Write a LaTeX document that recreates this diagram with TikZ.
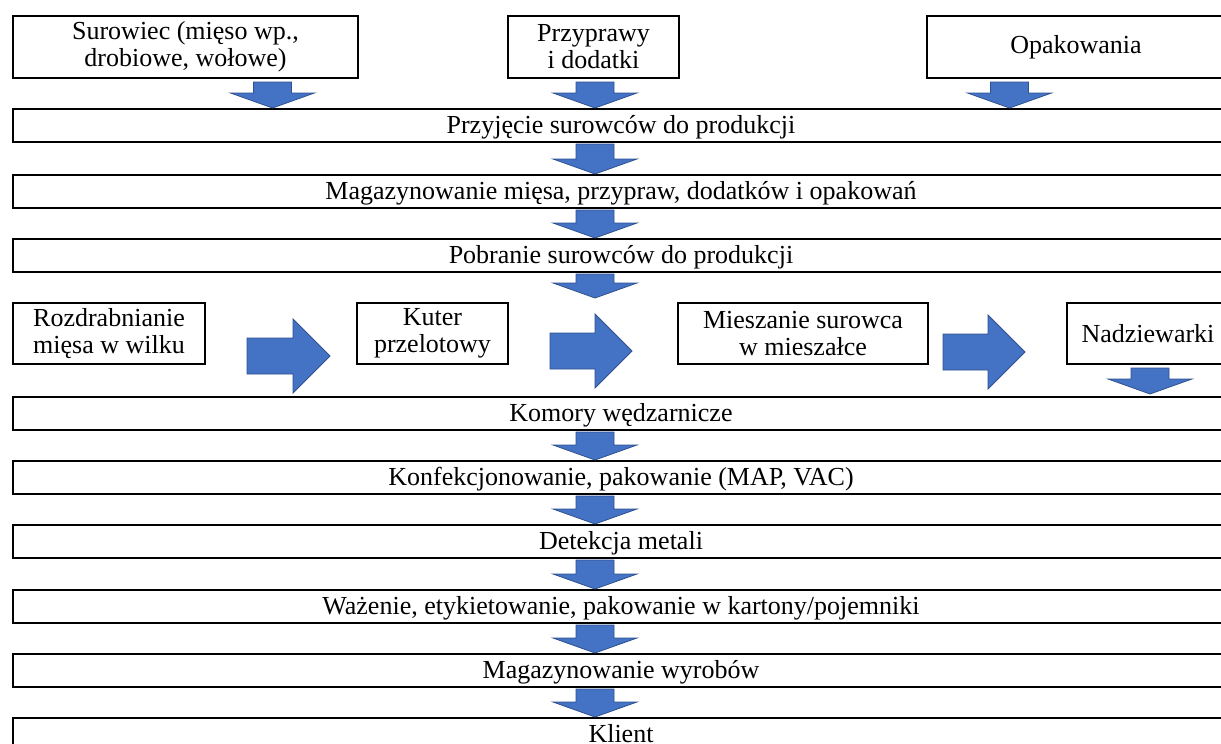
\documentclass[tikz,border=0pt]{standalone}
\usepackage{fontspec}
\setmainfont{Liberation Serif}
\usetikzlibrary{calc}
\definecolor{arrblue}{HTML}{4472C4}
\definecolor{arredge}{HTML}{2F528F}
\tikzset{
  box/.style={draw=black, line width=2pt, fill=white, inner sep=0pt, anchor=north west,
    font=\fontsize{26}{27}\selectfont, align=center},
  wide/.style={box, minimum width=1216pt, minimum height=33pt,
    text height=19.5pt, text depth=4pt},
  barrow/.style={fill=arrblue, draw=arredge, line width=0.8pt, line join=miter},
}
\newcommand\dnarr[2]{%
  \draw[barrow] let \p1=(#1), \p2=(#2) in
    (\x1-19pt,\y1) -- (\x1+19pt,\y1) -- (\x1+19pt,\y2+15pt) -- (\x1+42pt,\y2+15pt)
    -- (\x2,\y2) -- (\x1-42pt,\y2+15pt) -- (\x1-19pt,\y2+15pt) -- cycle;}
\newcommand\rtarr[2]{%
  \draw[barrow] let \p1=(#1), \p2=(#2) in
    (\x1,\y1+18pt) -- (\x2-37pt,\y1+18pt) -- (\x2-37pt,\y1+37pt) -- (\x2,\y2)
    -- (\x2-37pt,\y1-37pt) -- (\x2-37pt,\y1-18pt) -- (\x1,\y1-18pt) -- cycle;}
\begin{document}
\begin{tikzpicture}[x=1pt,y=-1pt]
\useasboundingbox[fill=white] (0,0) rectangle (1221,744);
\clip (0,0) rectangle (1221,744);
% top row
\node[box, minimum width=345pt, minimum height=62pt] (sur) at (12,15) {Surowiec (mięso wp.,\\drobiowe, wołowe)};
\node[box, minimum width=171pt, minimum height=62pt] (prz) at (507,15) {Przyprawy\\i dodatki};
\node[box, minimum width=298pt, minimum height=62pt] (opa) at (926,15) {Opakowania};
% wide steps
\node[wide] (w1) at (12,108) {Przyjęcie surowców do produkcji};
\node[wide] (w2) at (12,174) {Magazynowanie mięsa, przypraw, dodatków i opakowań};
\node[wide] (w3) at (12,238) {Pobranie surowców do produkcji};
% middle row
\node[box, minimum width=192pt, minimum height=61pt] (roz) at (12,302) {Rozdrabnianie\\mięsa w wilku};
\node[box, minimum width=151pt, minimum height=61pt] (kut) at (356,302) {Kuter\\przelotowy};
\node[box, minimum width=250pt, minimum height=61pt] (mie) at (677,302) {Mieszanie surowca\\w mieszałce};
\node[box, minimum width=162pt, minimum height=61pt] (nad) at (1066,302) {Nadziewarki};
% lower wide steps
\node[wide] (w4) at (12,396) {Komory wędzarnicze};
\node[wide] (w5) at (12,460) {Konfekcjonowanie, pakowanie (MAP, VAC)};
\node[wide] (w6) at (12,524) {Detekcja metali};
\node[wide] (w7) at (12,589) {Ważenie, etykietowanie, pakowanie w kartony/pojemniki};
\node[wide] (w8) at (12,653) {Magazynowanie wyrobów};
\node[wide] (w9) at (12,717) {Klient};
% arrow axes
\coordinate (c1) at (272.5,0);
\coordinate (c2) at (595,0);
\coordinate (c3) at (1009.5,0);
\coordinate (c4) at (1150,0);
% top arrows
\dnarr{$(sur.south -| c1)+(0,3)$}{w1.north -| c1}
\dnarr{$(prz.south -| c2)+(0,3)$}{w1.north -| c2}
\dnarr{$(opa.south -| c3)+(0,3)$}{w1.north -| c3}
% main column
\dnarr{$(w1.south -| c2)+(0,1)$}{w2.north -| c2}
\dnarr{$(w2.south -| c2)+(0,1)$}{w3.north -| c2}
\coordinate (mtip) at (595,298);
\dnarr{$(w3.south -| c2)+(0,1)$}{mtip}
% middle row arrows
\coordinate (a1s) at (247,356); \coordinate (a1e) at (330,356);
\coordinate (a2s) at (550,351); \coordinate (a2e) at (632,351);
\coordinate (a3s) at (943,352); \coordinate (a3e) at (1025,352);
\rtarr{a1s}{a1e}
\rtarr{a2s}{a2e}
\rtarr{a3s}{a3e}
\dnarr{$(nad.south -| c4)+(0,3)$}{$(w4.north -| c4)+(0,-2)$}
% lower column
\dnarr{$(w4.south -| c2)+(0,1)$}{w5.north -| c2}
\dnarr{$(w5.south -| c2)+(0,1)$}{w6.north -| c2}
\dnarr{$(w6.south -| c2)+(0,1)$}{w7.north -| c2}
\dnarr{$(w7.south -| c2)+(0,1)$}{w8.north -| c2}
\dnarr{$(w8.south -| c2)+(0,1)$}{w9.north -| c2}
\end{tikzpicture}
\end{document}
